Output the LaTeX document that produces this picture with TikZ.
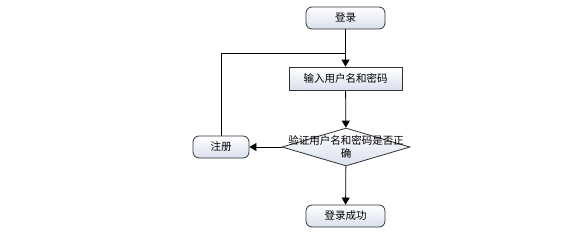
\documentclass[tikz,border=0pt]{standalone}
\usepackage{fontspec}
\setmainfont{Noto Sans CJK SC}
\usetikzlibrary{shapes.geometric,arrows.meta}
\definecolor{edge}{HTML}{333333}
\definecolor{fade}{HTML}{D9E0EE}

\tikzset{
  base/.style={draw=edge, line width=0.8pt, top color=white, bottom color=fade,
    font=\fontsize{10.5}{12}\selectfont, inner sep=0pt},
  term/.style={base, rounded corners=6pt, minimum width=79pt, minimum height=22pt},
  proc/.style={base, minimum width=113pt, minimum height=23pt},
  check/.style={base, diamond, aspect=3.37, minimum width=128pt, minimum height=38pt},
  flow/.style={line width=0.8pt, -{Triangle[length=7pt,width=8pt]}}
}

\begin{document}
\begin{tikzpicture}[x=1pt, y=-1pt]
  \useasboundingbox (0,0) rectangle (588,244);
  \node[term] (login) at (345.5,18) {登录};
  \node[proc] (input) at (345.5,78.5) {输入用户名和密码};
  \node[check] (verify) at (346,147) {};
  \node[font=\fontsize{10.5}{12.5}\selectfont, align=center] (verifytext) at (346,147)
    {验证用户名和密码是否正\\确};
  \node[term, minimum width=56pt] (register) at (221,147) {注册};
  \node[term] (success) at (345.5,216) {登录成功};
  \coordinate (join) at (345.5,53);

  \draw[flow] (login) -- (input);
  \draw[flow] (input) -- (verify);
  \draw[flow] (verify) -- (register);
  \draw[flow] (verify) -- (success);
  \draw[line width=0.8pt] (register) |- (join);
\end{tikzpicture}
\end{document}
